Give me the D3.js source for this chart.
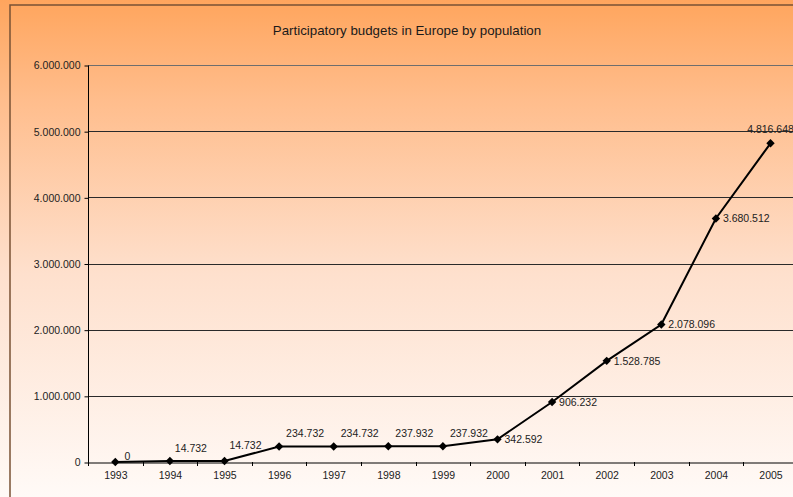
<!DOCTYPE html>
<html><head><meta charset="utf-8">
<script src="https://cdn.jsdelivr.net/npm/d3@7"></script>
<style>html,body{margin:0;padding:0;overflow:hidden;}svg{display:block;}</style>
</head><body>
<svg id="c" width="793" height="497"></svg>
<script>
const years = ["1993","1994","1995","1996","1997","1998","1999","2000","2001","2002","2003","2004","2005"];
const population = [0,14732,14732,234732,234732,237932,237932,342592,906232,1528785,2078096,3680512,4816648];
const yTicks = [0,1000000,2000000,3000000,4000000,5000000,6000000];
const title = "Participatory budgets in Europe by population";

(function(){
const W = 793, H = 497;
const svg = d3.select("#c");
const font = "'Liberation Sans', Arial, sans-serif";
const loc = d3.formatLocale({decimal: ",", thousands: ".", grouping: [3], currency: ["", ""]});
const fmt = loc.format(",d");

const defs = svg.append("defs");
const g = defs.append("linearGradient").attr("id","bg").attr("x1",0).attr("y1",0).attr("x2",0).attr("y2",1);
g.append("stop").attr("offset","0%").attr("stop-color","#ffa55d");
g.append("stop").attr("offset","20%").attr("stop-color","#ffbd8c");
g.append("stop").attr("offset","55%").attr("stop-color","#fee0cd");
g.append("stop").attr("offset","100%").attr("stop-color","#fffaf7");
svg.append("rect").attr("width",W).attr("height",H).attr("fill","url(#bg)");

svg.append("rect").attr("x",10).attr("y",5).attr("width",W).attr("height",H)
  .attr("fill","none").attr("stroke","#7a5234").attr("stroke-width",1.5);

svg.append("text").attr("x",407).attr("y",35).attr("text-anchor","middle")
  .attr("font-family",font).attr("font-size",13.3).attr("fill","#1a1a1a").text(title);

const pl = 88, pt = 65, pb = 462, band = 54.6;
const x = d3.scaleBand().domain(years).range([pl, pl + band*years.length]).paddingInner(0).paddingOuter(0);
const y = d3.scaleLinear().domain([0,6000000]).range([pb, pt]);
const cx = d => x(d) + x.bandwidth()/2;

svg.append("g").selectAll("line").data(yTicks.slice(1)).join("line")
  .attr("x1",pl).attr("x2",W).attr("y1",d=>Math.round(y(d))+0.5).attr("y2",d=>Math.round(y(d))+0.5)
  .attr("stroke",(d)=> d===6000000 ? "#6e6e6e" : "#2a2a2a").attr("stroke-width",1);

const ya = svg.append("g").attr("transform",`translate(${pl+0.5},0.5)`)
  .call(d3.axisLeft(y).tickValues(yTicks).tickFormat(fmt).tickSize(4).tickPadding(4));
ya.select(".domain").attr("stroke","#000").attr("d",`M0,${pt}V${pb}`);
ya.selectAll(".tick line").attr("stroke","#000");
ya.selectAll("text").attr("font-family",font).attr("font-size",10.5).attr("fill","#222");

const xa = svg.append("g").attr("transform",`translate(0.5,${pb+0.5})`)
  .call(d3.axisBottom(x).tickSize(0).tickPadding(9));
xa.select(".domain").attr("stroke","#000").attr("stroke-width",1);
xa.selectAll("text").attr("font-family",font).attr("font-size",10.5).attr("fill","#222");
svg.append("g").selectAll("line").data(years).join("line")
  .attr("x1",d=>Math.round(x(d))+0.5).attr("x2",d=>Math.round(x(d))+0.5)
  .attr("y1",pb).attr("y2",pb+4).attr("stroke","#000");

const pts = years.map((yr,i)=>({yr, v: population[i], i}));
svg.append("path").datum(pts)
  .attr("d", d3.line().x(d=>cx(d.yr)).y(d=>y(d.v)))
  .attr("fill","none").attr("stroke","#000").attr("stroke-width",2);

const dm = 4.2;
svg.append("g").selectAll("path").data(pts).join("path")
  .attr("d", `M0,${-dm}L${dm},0L0,${dm}L${-dm},0Z`)
  .attr("transform", d=>`translate(${cx(d.yr)},${y(d.v)})`).attr("fill","#000");

svg.append("g").selectAll("text").data(pts).join("text")
  .attr("font-family",font).attr("font-size",10.5).attr("fill","#222")
  .attr("x", d => {
    if (d.i === 0) return cx(d.yr) + 12;
    if (d.i <= 2) return cx(d.yr) + 21;
    if (d.i <= 6) return cx(d.yr) + 26;
    if (d.i === 12) return cx(d.yr);
    return cx(d.yr) + 7;
  })
  .attr("y", d => {
    if (d.i === 0) return y(d.v) - 2;
    if (d.i === 2) return y(d.v) - 12;
    if (d.i <= 6) return y(d.v) - 9;
    if (d.i === 12) return y(d.v) - 10;
    return y(d.v) + 4;
  })
  .attr("text-anchor", d => (d.i <= 6 || d.i === 12) ? "middle" : "start")
  .text(d => fmt(d.v));
})();
</script>
</body></html>
